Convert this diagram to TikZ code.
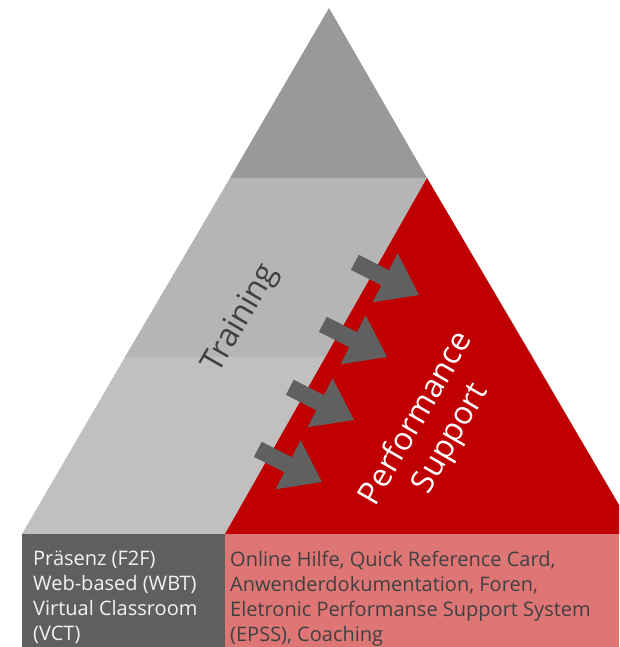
\documentclass[tikz,border=0pt]{standalone}
\usepackage{fontspec}
\setmainfont{Open Sans}
\usetikzlibrary{positioning}
\definecolor{pTop}{gray}{0.6}
\definecolor{pMid}{RGB}{181,181,181}
\definecolor{pLow}{RGB}{192,192,192}
\definecolor{pRed}{RGB}{192,0,0}
\definecolor{pPink}{RGB}{222,118,118}
\definecolor{pDark}{RGB}{95,95,95}
\definecolor{pArrow}{RGB}{96,96,96}
\definecolor{pText}{RGB}{64,64,64}
\definecolor{pLight}{RGB}{242,242,242}
\tikzset{
    listtext/.style={inner sep=0pt, anchor=north west, align=left, font=\fontsize{20}{25}\selectfont},
    slanted/.style={rotate=60, inner sep=0pt, align=center, font=\fontsize{32}{40}\selectfont},
    blockarrow/.pic={\fill[pArrow] (-72,-8.5) -- (-38,-8.5) -- (-38,-27.5) -- (0,0) -- (-38,27.5) -- (-38,8.5) -- (-72,8.5) -- cycle;}
}

\begin{document}
\begin{tikzpicture}[x=1pt,y=1pt]
\useasboundingbox (0,0) rectangle (619,647);
\clip (0,0) rectangle (619,647);
\coordinate (apex) at (329,639);
\coordinate (band1l) at (230,469);
\coordinate (band1r) at (427,469);
\coordinate (band2l) at (125,290);
\coordinate (band2r) at (533,290);
\coordinate (basel) at (22,113);
\coordinate (baser) at (636,113);
\coordinate (split) at (225,113);
\fill[pTop] (apex) -- (band1r) -- (band1l) -- cycle;
\fill[pMid] (band1l) -- (band1r) -- (band2r) -- (band2l) -- cycle;
\fill[pLow] (band2l) -- (band2r) -- (baser) -- (basel) -- cycle;
\fill[pRed] (band1r) -- (baser) -- (split) -- cycle;
\fill[pDark] (22,0) rectangle (split);
\fill[pPink] (split) rectangle (619,0);
\pic[rotate=-27] at (419,352) {blockarrow};
\pic[rotate=-27] at (387,290) {blockarrow};
\pic[rotate=-27] at (354,227) {blockarrow};
\pic[rotate=-27] at (322,165) {blockarrow};
\node[slanted, text=pText] (train) at (241,328) {Training};
\node[slanted, text=white] (perf) at (434,218) {Performance\\Support};
\node[listtext, text=pLight] (trainlist) at (33,96) {Präsenz (F2F)\\Web-based (WBT)\\Virtual Classroom\\(VCT)};
\node[listtext, text=pText] (perflist) at (230,96) {Online Hilfe, Quick Reference Card,\\Anwenderdokumentation, Foren,\\Eletronic Performanse Support System\\(EPSS), Coaching};
\end{tikzpicture}
\end{document}
